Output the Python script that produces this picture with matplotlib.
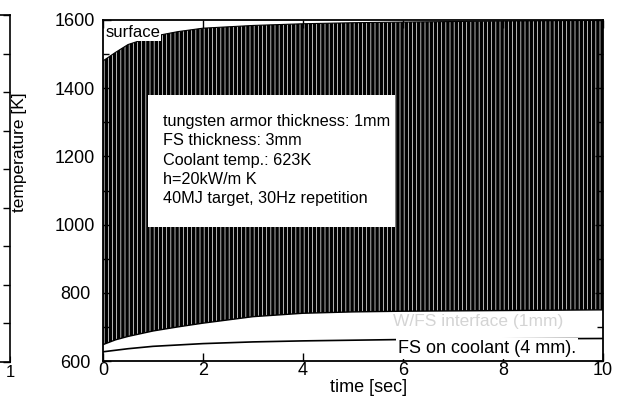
import matplotlib
matplotlib.use("Agg")
import matplotlib.pyplot as plt
from matplotlib.patches import Rectangle
import numpy as np

plt.rcParams['font.family'] = ['Liberation Sans', 'DejaVu Sans']
plt.rcParams['hatch.linewidth'] = 2.5

# envelope of the pulsed surface temperature
t_env = [0, 0.25, 0.5, 1, 1.5, 2, 3, 4, 5, 6, 8, 10]
surface_max = [1480, 1505, 1528, 1552, 1566, 1576, 1584, 1589, 1592, 1594, 1597, 1599]
surface_min = [648, 662, 672, 688, 700, 711, 730, 740, 744, 746, 748, 750]

# FS on coolant curve
t_fs = [0, 0.5, 1, 2, 3, 4, 5, 6, 8, 10]
fs_coolant = [627, 636, 643, 651, 656, 659, 661, 663, 665, 666]

xticks = [0, 2, 4, 6, 8, 10]
yticks = [600, 800, 1000, 1200, 1400, 1600]

W, H = 629, 399
fig = plt.figure(figsize=(W / 100, H / 100), dpi=100)

def fx(px):
    return px / W

def fy(py):
    return 1 - py / H

# partial left panel
axl = fig.add_axes([fx(-120), fy(362), fx(130), fy(15) - fy(362)])
axl.set_xlim(0, 1)
axl.set_ylim(0, 9)
axl.set_yticks(range(10))
axl.set_yticklabels([])
axl.yaxis.tick_right()
axl.tick_params(axis='y', direction='in', length=5, width=1)
axl.set_xticks([1])
axl.set_xticklabels(['1'], fontsize=12)
axl.tick_params(axis='x', direction='in', length=4, pad=2)
for s in axl.spines.values():
    s.set_linewidth(1.2)

# main panel
ax = fig.add_axes([fx(103), fy(361), fx(500), fy(20) - fy(361)])
ax.set_xlim(0, 10)
ax.set_ylim(600, 1600)

ax.fill_between(t_env, surface_min, surface_max, facecolor='white',
                edgecolor='black', hatch='||||', linewidth=0)
ax.plot(t_env, surface_max, color='black', lw=0.8)
ax.plot(t_env, surface_min, color='black', lw=1.0)
ax.plot(t_fs, fs_coolant, color='black', lw=1.2)

ax.set_xticks(xticks)
ax.set_yticks(yticks)
ax.set_yticks(np.arange(600, 1601, 100), minor=True)
ax.tick_params(which='both', direction='in', top=True, right=True, width=1)
ax.tick_params(which='major', length=6)
ax.tick_params(which='minor', length=4)
ax.tick_params(axis='y', labelsize=13, pad=20)
ax.tick_params(axis='x', labelsize=13, pad=1)
for lbl in ax.get_yticklabels():
    lbl.set_horizontalalignment('center')
for s in ax.spines.values():
    s.set_linewidth(1.3)

# annotation box (white panel drawn in axes fraction coordinates)
box = Rectangle(((148 - 103) / 500, (361 - 227) / 341), (395 - 148) / 500,
                (227 - 95) / 341, transform=ax.transAxes, facecolor='white',
                edgecolor='none', zorder=4)
ax.add_patch(box)
ax.text((163 - 103) / 500, (361 - 160) / 341,
        "tungsten armor thickness: 1mm\nFS thickness: 3mm\nCoolant temp.: 623K\n"
        "h=20kW/m K\n40MJ target, 30Hz repetition",
        transform=ax.transAxes, fontsize=11.7, va='center', ha='left',
        linespacing=1.36, zorder=5)

ax.text(0.05, 1563, "surface", fontsize=12, va='center', ha='left',
        bbox=dict(boxstyle='square,pad=0.03', facecolor='white', edgecolor='none'),
        zorder=5)

ax.text(5.8, 716, "W/FS interface (1mm)", fontsize=12.5, color='#d4d4d4',
        va='center', ha='left', zorder=5)

ax.text(5.9, 637, "FS on coolant (4 mm).", fontsize=13, va='center', ha='left',
        bbox=dict(boxstyle='square,pad=0.12', facecolor='white', edgecolor='none'),
        zorder=5)

fig.text(fx(369), fy(387), "time [sec]", fontsize=13, ha='center', va='center')
fig.text(fx(20), fy(152), "temperature [K]", fontsize=12.5, ha='center',
         va='center', rotation=90)

fig.savefig("out.png", dpi=100)
